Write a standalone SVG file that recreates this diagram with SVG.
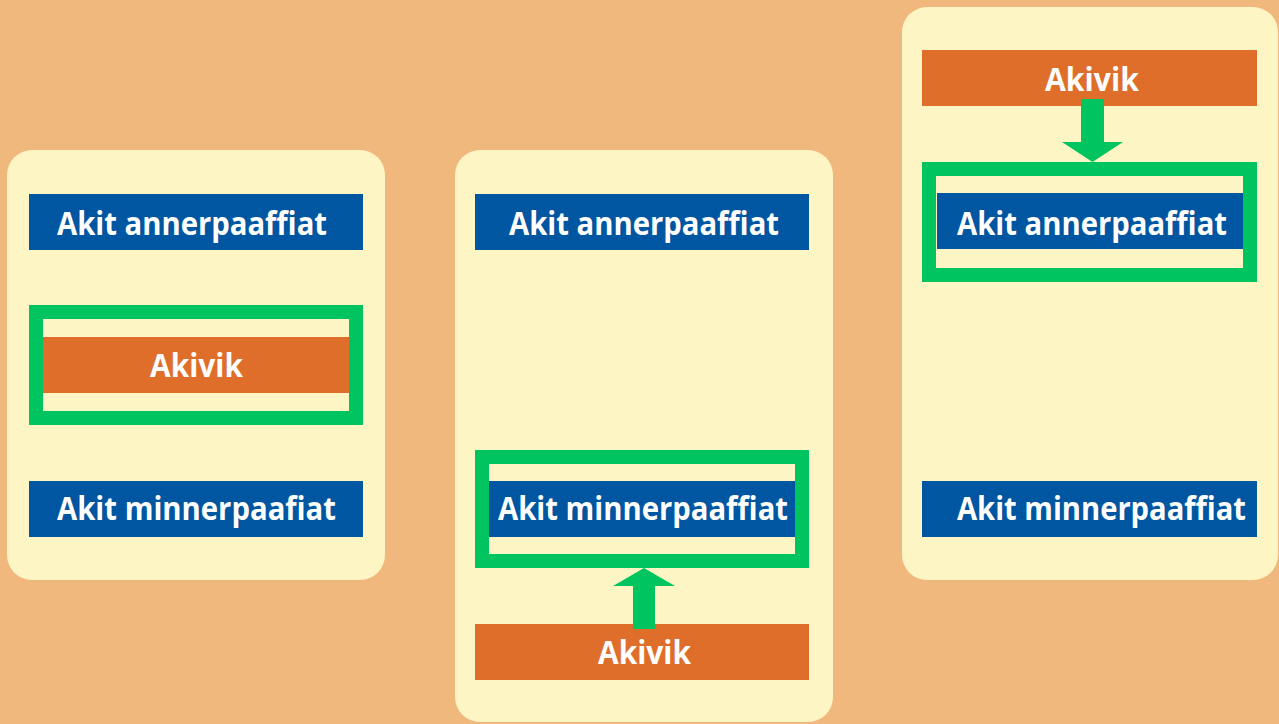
<svg xmlns="http://www.w3.org/2000/svg" width="1279" height="724" viewBox="0 0 1279 724">
<style>
.bg{fill:#F1B87D}
.panel{fill:#FDF6C4}
.blue{fill:#0056A0}
.orange{fill:#DE6E2A}
.frame{fill:none;stroke:#00C460;stroke-width:14}
.arrow{fill:#00C460}
.lbl{font-family:"Open Sans","Noto Sans","Liberation Sans",sans-serif;font-weight:700;font-size:32px;fill:#FFFFFF}
</style>
<rect class="bg" x="0" y="0" width="1279" height="724"/>
<g id="panel1">
<rect class="panel" x="7" y="150" width="378" height="430" rx="25"/>
<g id="p1-annerpaaffiat"><rect class="blue" x="29" y="194" width="334" height="56"/><text class="lbl" x="57" y="235" textLength="270" lengthAdjust="spacingAndGlyphs">Akit annerpaaffiat</text></g>
<g id="p1-akivik"><rect class="orange" x="43" y="337" width="306" height="56"/><text class="lbl" x="150" y="377" textLength="93" lengthAdjust="spacingAndGlyphs">Akivik</text><rect class="frame" x="36" y="312" width="320" height="106"/></g>
<g id="p1-minnerpaafiat"><rect class="blue" x="29" y="481" width="334" height="56"/><text class="lbl" x="57" y="520" textLength="279" lengthAdjust="spacingAndGlyphs">Akit minnerpaafiat</text></g>
</g>
<g id="panel2">
<rect class="panel" x="455" y="150" width="378" height="572" rx="25"/>
<g id="p2-annerpaaffiat"><rect class="blue" x="475" y="194" width="334" height="56"/><text class="lbl" x="509" y="235" textLength="270" lengthAdjust="spacingAndGlyphs">Akit annerpaaffiat</text></g>
<g id="p2-minnerpaaffiat"><rect class="blue" x="489" y="481" width="306" height="56"/><text class="lbl" x="498" y="520" textLength="290" lengthAdjust="spacingAndGlyphs">Akit minnerpaaffiat</text><rect class="frame" x="482" y="457" width="320" height="104"/></g>
<g id="p2-akivik"><rect class="orange" x="475" y="624" width="334" height="56"/><text class="lbl" x="598" y="664" textLength="93" lengthAdjust="spacingAndGlyphs">Akivik</text></g>
</g>
<g id="panel3">
<rect class="panel" x="902" y="7" width="376" height="573" rx="25"/>
<g id="p3-akivik"><rect class="orange" x="922" y="50" width="335" height="56"/><text class="lbl" x="1045" y="91" textLength="94" lengthAdjust="spacingAndGlyphs">Akivik</text></g>
<g id="p3-annerpaaffiat"><rect class="blue" x="937" y="193" width="306" height="56"/><text class="lbl" x="957" y="235" textLength="270" lengthAdjust="spacingAndGlyphs">Akit annerpaaffiat</text><rect class="frame" x="929" y="169" width="321" height="106"/></g>
<g id="p3-minnerpaaffiat"><rect class="blue" x="922" y="481" width="335" height="56"/><text class="lbl" x="957" y="520" textLength="289" lengthAdjust="spacingAndGlyphs">Akit minnerpaaffiat</text></g>
</g>
<g id="connectors">
<polygon class="arrow" points="633,629 655,629 655,586 675,586 644,568 613,586 633,586"/>
<polygon class="arrow" points="1081,99 1104,99 1104,142 1123,142 1092.5,162 1062,142 1081,142"/>
</g>
</svg>
